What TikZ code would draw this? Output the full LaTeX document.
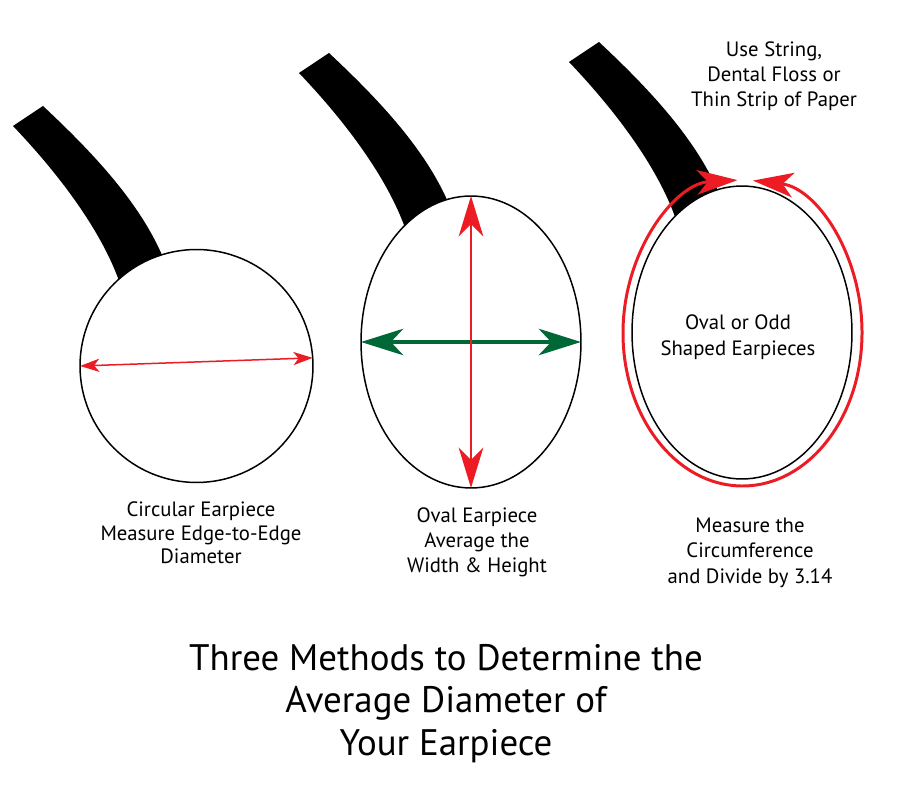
\documentclass[tikz,border=0pt]{standalone}
\usepackage{fontspec}
\setmainfont{PT Sans}
\usetikzlibrary{arrows.meta,shapes.geometric}
\definecolor{myred}{RGB}{237,28,36}
\definecolor{mygreen}{RGB}{0,104,55}
\begin{document}
\begin{tikzpicture}[x=0.02cm,y=-0.02cm,
  earline/.style={draw=black,line width=0.85pt,fill=white,inner sep=0pt,outer sep=0pt},
  captxt/.style={anchor=base,inner sep=0pt,font=\fontsize{11.8}{14}\selectfont},
  ttltxt/.style={anchor=base,inner sep=0pt,font=\fontsize{21}{24}\selectfont},
  bigred/.style={draw=myred,line width=1.7pt,{Stealth[length=23pt,width=14pt,inset=7pt]}-{Stealth[length=23pt,width=14pt,inset=7pt]}},
  biggreen/.style={draw=mygreen,line width=2.3pt,{Stealth[length=24pt,width=15pt,inset=7pt]}-{Stealth[length=24pt,width=15pt,inset=7pt]}},
  smallred/.style={draw=myred,line width=0.85pt,{Stealth[length=11pt,width=7.5pt,inset=3pt]}-{Stealth[length=11pt,width=7.5pt,inset=3pt]}},
  handle/.pic={\fill[black] (13,126) .. controls (55,170) and (98,225) .. (118,278) -- (130,320) -- (175,300) -- (162,255) .. controls (138,200) and (90,150) .. (43,106) -- cycle;}
]
\useasboundingbox (0,0) rectangle (900,800);

% handles
\pic (h1) at (0,0) {handle};
\pic (h2) at (286,-53) {handle};
\pic (h3) at (556,-64) {handle};

% earpieces
\node[earline,circle,minimum size=4.66cm] (c1) at (196.5,366) {};
\node[earline,ellipse,minimum width=4.4cm,minimum height=5.84cm] (e2) at (471,342) {};
\node[earline,ellipse,minimum width=4.4cm,minimum height=5.86cm] (e3) at (742,332.5) {};

% measurement arrows
\draw[smallred] (c1.180) -- (c1.4);
\draw[biggreen] (e2.west) -- (e2.east);
\draw[bigred] (e2.north) -- (e2.south);

% string around third earpiece
\draw[draw=myred,line width=1.7pt,{Stealth[length=23pt,width=14pt,inset=6pt]}-{Stealth[length=23pt,width=14pt,inset=6pt]}]
  (742.5,333) ++(-85:119.5 and 153) arc[start angle=-85,end angle=267.6,x radius=119.5,y radius=153];

% labels
\node[captxt] (u1) at (774,57) {Use String,};
\node[captxt] (u2) at (774,82) {Dental Floss or};
\node[captxt] (u3) at (774,107) {Thin Strip of Paper};

\node[captxt] (o1) at (738,330) {Oval or Odd};
\node[captxt] (o2) at (738,356) {Shaped Earpieces};

\node[captxt] (a1) at (201,517) {Circular Earpiece};
\node[captxt] (a2) at (201,541) {Measure Edge-to-Edge};
\node[captxt] (a3) at (201,564) {Diameter};

\node[captxt] (b1) at (477,523) {Oval Earpiece};
\node[captxt] (b2) at (477,548) {Average the};
\node[captxt] (b3) at (477,573) {Width \& Height};

\node[captxt] (d1) at (750,533) {Measure the};
\node[captxt] (d2) at (750,558) {Circumference};
\node[captxt] (d3) at (750,583) {and Divide by 3.14};

\node[ttltxt] (t1) at (446,670) {Three Methods to Determine the};
\node[ttltxt] (t2) at (446,712) {Average Diameter of};
\node[ttltxt] (t3) at (446,755) {Your Earpiece};
\end{tikzpicture}
\end{document}
